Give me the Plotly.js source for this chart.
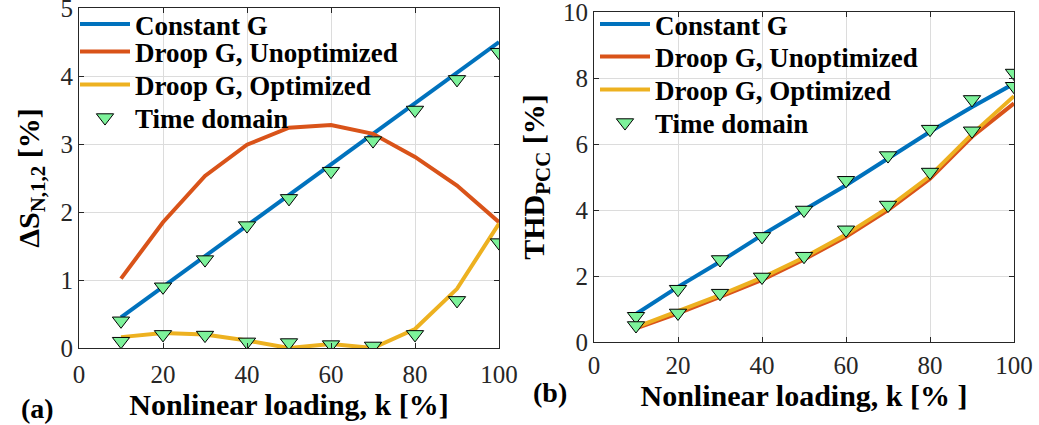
<!DOCTYPE html>
<html>
<head>
<meta charset="utf-8">
<script src="https://cdn.plot.ly/plotly-3.0.1.min.js"></script>
<style>html,body{margin:0;padding:0;background:#fff;}#chart{width:1039px;height:425px;}</style>
</head>
<body>
<div id="chart"></div>
<script>
// ---- data ----
const loading = [10, 20, 30, 40, 50, 60, 70, 80, 90, 100];

// (a) Delta S_N,1,2 [%]
const dsConstantG   = [0.45, 0.90, 1.35, 1.80, 2.25, 2.70, 3.15, 3.60, 4.05, 4.50];
const dsDroopUnopt  = [1.02, 1.85, 2.53, 2.99, 3.24, 3.28, 3.15, 2.81, 2.39, 1.85];
const dsDroopOpt    = [0.16, 0.22, 0.20, 0.11, 0.00, 0.06, 0.00, 0.28, 0.87, 1.83];
const dsTimeUpper   = [0.40, 0.90, 1.30, 1.80, 2.20, 2.60, 3.05, 3.50, 3.95, 4.35];
const dsTimeLower   = [0.10, 0.20, 0.19, 0.09, 0.08, 0.05, 0.03, 0.20, 0.70, 1.55];

// (b) THD_PCC [%]
const thdConstantG  = [0.85, 1.67, 2.43, 3.24, 4.00, 4.75, 5.56, 6.37, 7.12, 7.83];
const thdDroopUnopt = [0.41, 0.87, 1.37, 1.88, 2.50, 3.19, 4.00, 4.95, 6.22, 7.23];
const thdDroopOpt   = [0.45, 0.92, 1.42, 1.95, 2.56, 3.26, 4.07, 5.03, 6.30, 7.45];
const thdTimeUpper  = [0.78, 1.60, 2.50, 3.20, 4.00, 4.90, 5.65, 6.45, 7.35, 8.15];
const thdTimeLower  = [0.50, 0.88, 1.48, 1.97, 2.60, 3.40, 4.15, 5.15, 6.40, 7.75];

const seriesNames = ['Constant G', 'Droop G, Unoptimized', 'Droop G, Optimized', 'Time domain'];
const xTickVals = [0, 20, 40, 60, 80, 100];

// ---- styles ----
const FONT = 'Liberation Serif, serif';
const colors = ['#0072BD', '#D95319', '#EDB120'];
const LW = 4;
const markerStyle = {symbol: 'triangle-down', size: 15, color: '#7DF29A', line: {color: '#000', width: 1}};

function lineTrace(y, i, xa, ya, leg) {
  return {x: loading, y: y, name: seriesNames[i], mode: 'lines', type: 'scatter',
          line: {color: colors[i], width: LW}, xaxis: xa, yaxis: ya, legend: leg};
}
function markerTrace(yU, yL, xa, ya, leg) {
  return {x: loading.concat(loading), y: yU.concat(yL), name: seriesNames[3], mode: 'markers',
          type: 'scatter', marker: markerStyle, xaxis: xa, yaxis: ya, legend: leg};
}

const traces = [
  lineTrace(dsConstantG, 0, 'x', 'y', 'legend'),
  lineTrace(dsDroopUnopt, 1, 'x', 'y', 'legend2'),
  lineTrace(dsDroopOpt, 2, 'x', 'y', 'legend3'),
  markerTrace(dsTimeUpper, dsTimeLower, 'x', 'y', 'legend4'),
  lineTrace(thdConstantG, 0, 'x2', 'y2', 'legend5'),
  lineTrace(thdDroopUnopt, 1, 'x2', 'y2', 'legend6'),
  lineTrace(thdDroopOpt, 2, 'x2', 'y2', 'legend7'),
  markerTrace(thdTimeUpper, thdTimeLower, 'x2', 'y2', 'legend8')
];

const W = 1039, H = 425;
function axisBase() {
  return {
    showline: true, mirror: 'ticks', linecolor: '#262626', linewidth: 1,
    ticks: 'inside', ticklen: 5, tickcolor: '#262626',
    showgrid: true, gridcolor: '#dcdcdc', gridwidth: 1, zeroline: false,
    ticklabeloverflow: 'allow',
    tickfont: {family: FONT, size: 25, color: '#262626'}
  };
}
const titleFont = {family: FONT, size: 30, color: '#000', weight: 'bold'};
const legendFont = {family: FONT, size: 27, color: '#000', weight: 'bold'};

// one legend per entry, so each row sits where the reference has it;
// rows near the top edge are top-anchored so that no legend leaves the page.
function oneLegend(xPx, rowPx, topAnchored) {
  return {x: xPx / W, y: topAnchored ? 1 : (H - rowPx) / H, xanchor: 'left',
          yanchor: topAnchored ? 'top' : 'middle',
          bgcolor: 'rgba(0,0,0,0)', borderwidth: 0, font: legendFont, itemwidth: 50};
}

const layout = {
  width: W, height: H,
  margin: {l: 0, r: 0, t: 0, b: 0},
  paper_bgcolor: '#fff', plot_bgcolor: '#fff',
  showlegend: true,
  font: {family: FONT, color: '#000'},
  xaxis: Object.assign(axisBase(), {
    domain: [79 / W, 499 / W], range: [0, 100], tickvals: xTickVals, anchor: 'y',
    ticklabelstandoff: 4,
    title: {text: 'Nonlinear loading, k [%]', font: titleFont, standoff: 0}
  }),
  yaxis: Object.assign(axisBase(), {
    domain: [(H - 348) / H, (H - 8) / H], range: [0, 5], dtick: 1, anchor: 'x',
    title: {text: 'ΔS<sub>N,1,2</sub> [%]', font: titleFont, standoff: 12}
  }),
  xaxis2: Object.assign(axisBase(), {
    domain: [594 / W, 1014 / W], range: [0, 100], tickvals: xTickVals, anchor: 'y2',
    ticklabelstandoff: 1,
    title: {text: 'Nonlinear loading, k [% ]', font: titleFont, standoff: 0}
  }),
  yaxis2: Object.assign(axisBase(), {
    domain: [(H - 342) / H, (H - 12) / H], range: [0, 10], dtick: 2, anchor: 'x2',
    title: {text: 'THD<sub>PCC</sub> [%]', font: titleFont, standoff: 9}
  }),
  legend:  oneLegend(75, 18, true),
  legend2: oneLegend(75, 52),
  legend3: oneLegend(75, 85),
  legend4: oneLegend(75, 118),
  legend5: oneLegend(595, 24, true),
  legend6: oneLegend(595, 57),
  legend7: oneLegend(595, 90),
  legend8: oneLegend(595, 123),
  annotations: [
    {text: '(a)', xref: 'paper', yref: 'paper', x: 37 / W, y: (H - 408) / H,
     xanchor: 'center', yanchor: 'middle',
     showarrow: false, font: {family: FONT, size: 28, color: '#000', weight: 'bold'}},
    {text: '(b)', xref: 'paper', yref: 'paper', x: 550 / W, y: (H - 392) / H,
     xanchor: 'center', yanchor: 'middle',
     showarrow: false, font: {family: FONT, size: 28, color: '#000', weight: 'bold'}}
  ]
};

Plotly.newPlot('chart', traces, layout, {staticPlot: true, displayModeBar: false});
</script>
</body>
</html>
